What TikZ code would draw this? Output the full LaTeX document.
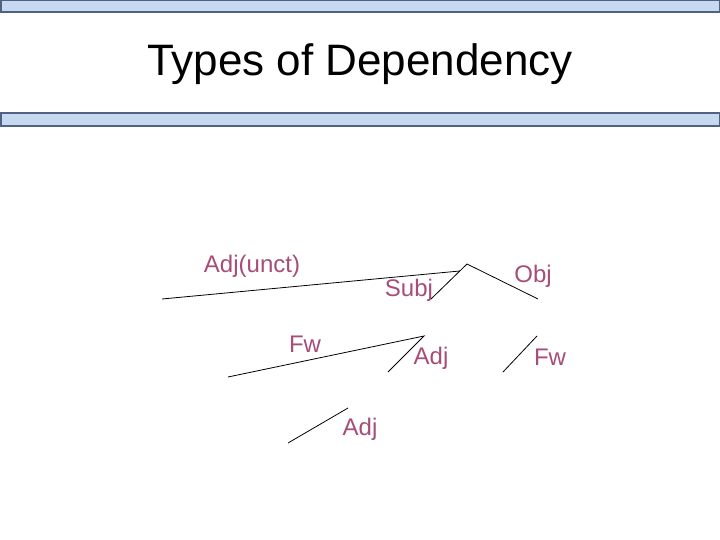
\documentclass[tikz,border=0pt]{standalone}
\usepackage{fontspec}
\setmainfont{Liberation Sans}
\usetikzlibrary{calc}
\definecolor{barfill}{RGB}{198,217,240}
\definecolor{bardraw}{RGB}{79,98,129}
\definecolor{lbl}{RGB}{166,77,121}
\tikzset{
  bar/.style={fill=barfill,draw=bardraw,line width=1.5pt},
  lab/.style={text=lbl,font=\fontsize{24}{28}\selectfont,anchor=base,inner sep=0pt},
  dep/.style={draw=black,line width=0.8pt},
}
\begin{document}
\begin{tikzpicture}[x=1pt,y=-1pt]
\useasboundingbox (0,0) rectangle (720,540);
\fill[white] (0,0) rectangle (720,540);
\draw[bar] (0.75,0.75) rectangle (719.25,12);
\draw[bar] (0.75,113) rectangle (719.25,126);
\node[anchor=base,inner sep=0pt,font=\fontsize{44}{50}\selectfont] (title) at (360,76) {Types of Dependency};
% labels
\node[lab] (adjunct) at (252,272) {Adj(unct)};
\node[lab] (subj) at (409,296) {Subj};
\node[lab] (obj) at (533,282) {Obj};
\node[lab] (fwl) at (305,352) {Fw};
\node[lab] (adjm) at (431,364) {Adj};
\node[lab] (fwr) at (550,365) {Fw};
\node[lab] (adjb) at (360,435) {Adj};
% coordinates
\coordinate (apexA) at (467,264);
\coordinate (subjEnd) at (431,299);
\coordinate (objEnd) at (538,299);
\coordinate (adjunctEnd) at (162,299);
\coordinate (adjunctTop) at ($(subjEnd)!0.8!(apexA)$);
\coordinate (apexB) at (424,336);
\coordinate (fwlEnd) at (228,377);
\coordinate (adjmEnd) at (388,372);
\coordinate (fwrTop) at (537,336);
\coordinate (fwrEnd) at (503,372);
\coordinate (adjbTop) at (348,408);
\coordinate (adjbEnd) at (288,443);
% connectors
\draw[dep] (subjEnd) -- (apexA) -- (objEnd);
\draw[dep] (adjunctEnd) -- (adjunctTop);
\draw[dep] (fwlEnd) -- (apexB) -- (adjmEnd);
\draw[dep] (fwrEnd) -- (fwrTop);
\draw[dep] (adjbEnd) -- (adjbTop);
\end{tikzpicture}
\end{document}
